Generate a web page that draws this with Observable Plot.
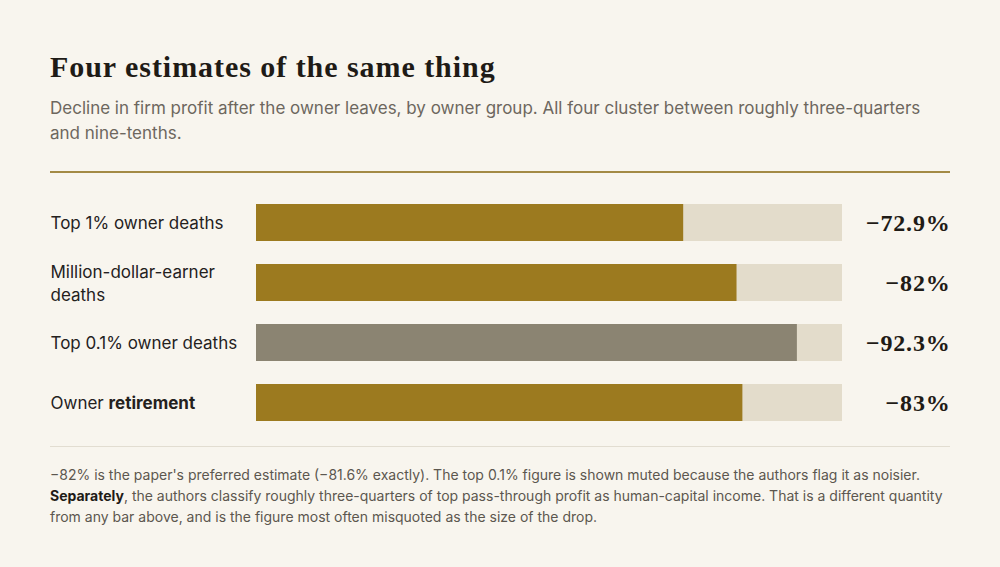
<!DOCTYPE html>
<html>
<head>
<meta charset="utf-8">
<script src="https://cdn.jsdelivr.net/npm/d3@7"></script>
<script src="https://cdn.jsdelivr.net/npm/@observablehq/plot@0.6"></script>
<style>
  html, body { margin: 0; padding: 0; background: #f8f5ee; }
  body { width: 1000px; height: 567px; position: relative; overflow: hidden; font-family: Inter, "Noto Sans", sans-serif; }
  .title { position: absolute; left: 50px; top: 50px; margin: 0; font-family: "Liberation Serif", serif; font-weight: 700; font-size: 30px; letter-spacing: 0.95px; line-height: 34px; color: #1f1b16; white-space: nowrap; }
  .subtitle { position: absolute; left: 50px; top: 96px; width: 900px; margin: 0; font-size: 17px; line-height: 25px; color: #6d675e; white-space: nowrap; }
  .rule { position: absolute; left: 50px; top: 171px; width: 900px; height: 2px; background: #a38a45; }
  #chart { position: absolute; left: 50px; top: 181px; width: 900px; }
  .rule2 { position: absolute; left: 50px; top: 446px; width: 900px; height: 1px; background: #e2ddd1; }
  .note { position: absolute; left: 50px; top: 464px; width: 900px; margin: 0; font-size: 14px; line-height: 21px; color: #5c574f; white-space: nowrap; }
  .note b { color: #1f1b16; font-weight: 700; }
</style>
</head>
<body>
<h1 class="title">Four estimates of the same thing</h1>
<p class="subtitle">Decline in firm profit after the owner leaves, by owner group. All four cluster between roughly three-quarters<br>and nine-tenths.</p>
<div class="rule"></div>
<div id="chart"></div>
<div class="rule2"></div>
<p class="note">−82% is the paper's preferred estimate (−81.6% exactly). The top 0.1% figure is shown muted because the authors flag it as noisier.<br><b>Separately</b>, the authors classify roughly three-quarters of top pass-through profit as human-capital income. That is a different quantity<br>from any bar above, and is the figure most often misquoted as the size of the drop.</p>
<script>
const groups = ["Top 1% owner deaths", "Million-dollar-earner\ndeaths", "Top 0.1% owner deaths", "Owner retirement"];
const declines = [72.9, 82, 92.3, 83];
const valueLabels = ["−72.9%", "−82%", "−92.3%", "−83%"];
const muted = [false, false, true, false];

const rows = groups.map((g, i) => ({group: g, value: declines[i], label: valueLabels[i], muted: muted[i]}));

const chart = Plot.plot({
  width: 900,
  height: 263,
  marginLeft: 206,
  marginRight: 108,
  marginTop: 0,
  marginBottom: 0,
  style: {background: "transparent", fontFamily: "Inter, 'Noto Sans', sans-serif", overflow: "visible"},
  x: {domain: [0, 100], axis: null},
  y: {domain: groups, padding: 0.3833, axis: null},
  marks: [
    Plot.barX(rows, {y: "group", x1: 0, x2: 100, fill: "#e3dccb"}),
    Plot.barX(rows, {y: "group", x1: 0, x2: "value", fill: d => d.muted ? "#8b8472" : "#9c7a1f"}),
    Plot.text(rows, {y: "group", text: "group", frameAnchor: "left", dx: -206, dy: -1, textAnchor: "start", fontSize: 17, lineHeight: 1.35, fill: "#24211d"}),
    Plot.text(rows, {y: "group", x: 100, text: "label", dx: 108, textAnchor: "end", fontSize: 24, fontWeight: 700, fontFamily: "'Liberation Serif', serif", fill: "#1f1b16"})
  ]
});

chart.querySelectorAll("text").forEach(t => {
  if (t.textContent === "Owner retirement") {
    t.textContent = "Owner ";
    const b = document.createElementNS("http://www.w3.org/2000/svg", "tspan");
    b.setAttribute("font-weight", "700");
    b.textContent = "retirement";
    t.appendChild(b);
  }
  if (valueLabels.includes(t.textContent)) {
    t.setAttribute("letter-spacing", "0.8");
  }
});

document.getElementById("chart").appendChild(chart);
</script>
</body>
</html>
